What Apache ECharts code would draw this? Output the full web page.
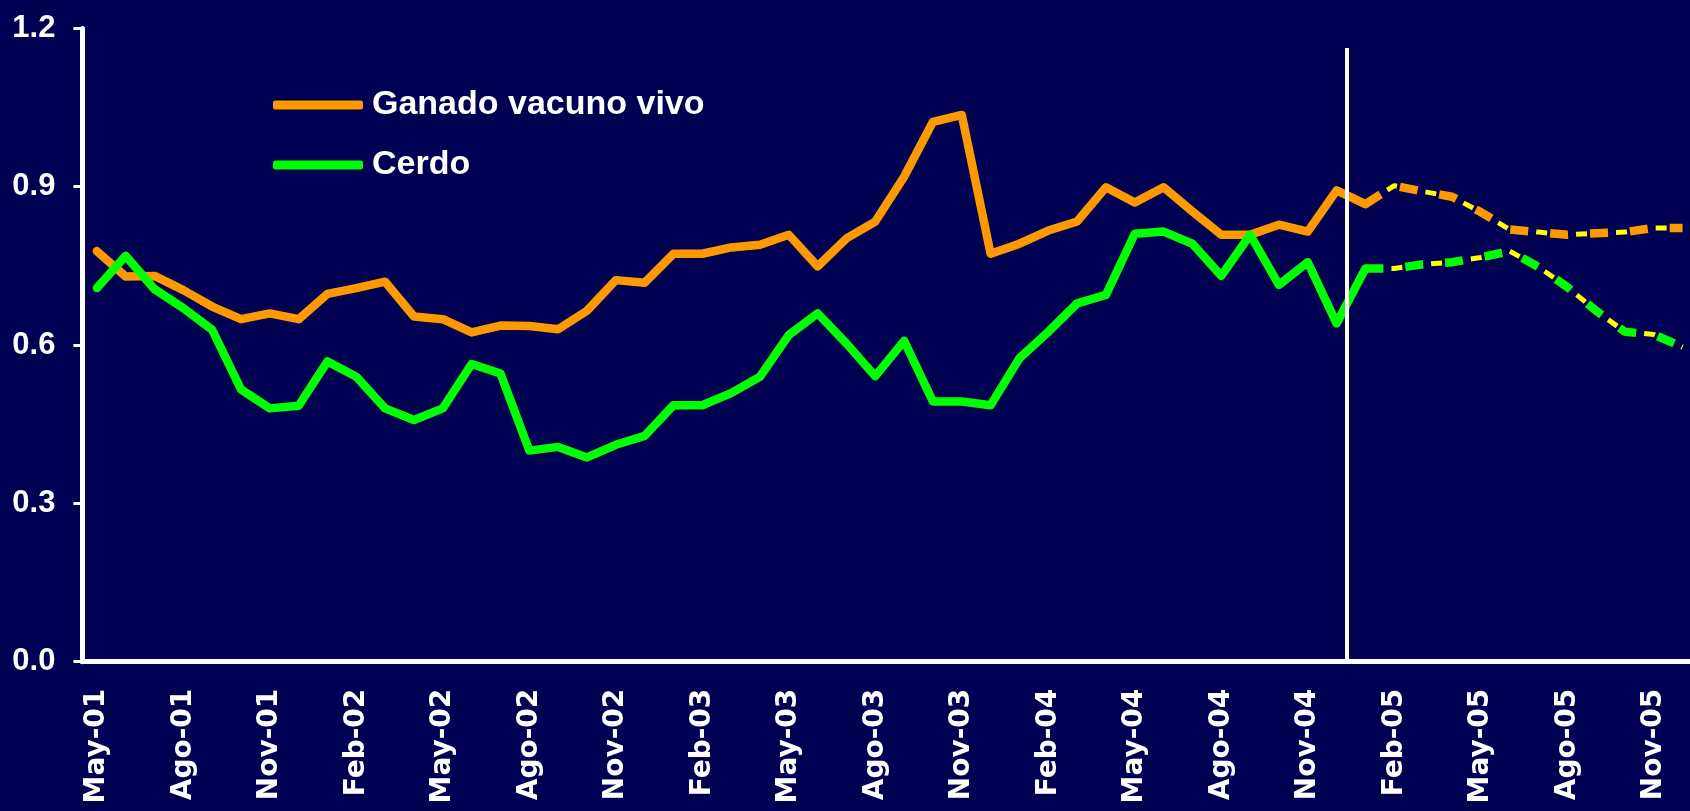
<!DOCTYPE html>
<html>
<head>
<meta charset="utf-8">
<script src="https://cdn.jsdelivr.net/npm/echarts@6/dist/echarts.min.js"></script>
<style>
html, body { margin: 0; padding: 0; background: #000052; }
#chart { width: 1690px; height: 811px; }
</style>
</head>
<body>
<div id="chart"></div>
<script>
// meses de May-01 a Dic-05
const meses = [
  'May-01','Jun-01','Jul-01','Ago-01','Sep-01','Oct-01','Nov-01','Dic-01',
  'Ene-02','Feb-02','Mar-02','Abr-02','May-02','Jun-02','Jul-02','Ago-02','Sep-02','Oct-02','Nov-02','Dic-02',
  'Ene-03','Feb-03','Mar-03','Abr-03','May-03','Jun-03','Jul-03','Ago-03','Sep-03','Oct-03','Nov-03','Dic-03',
  'Ene-04','Feb-04','Mar-04','Abr-04','May-04','Jun-04','Jul-04','Ago-04','Sep-04','Oct-04','Nov-04','Dic-04',
  'Ene-05','Feb-05','Mar-05','Abr-05','May-05','Jun-05','Jul-05','Ago-05','Sep-05','Oct-05','Nov-05','Dic-05'
];

// observado (May-01 .. Ene-05)
const ganado = [
  0.778, 0.730, 0.731, 0.704, 0.673, 0.649, 0.660, 0.649, 0.697, 0.708,
  0.720, 0.654, 0.649, 0.624, 0.637, 0.636, 0.630, 0.665, 0.723, 0.718,
  0.773, 0.773, 0.785, 0.790, 0.809, 0.749, 0.802, 0.834, 0.919, 1.023,
  1.036, 0.773, 0.792, 0.817, 0.834, 0.899, 0.870, 0.899, 0.853, 0.809,
  0.809, 0.828, 0.815, 0.893, 0.867
];
const cerdo = [
  0.708, 0.769, 0.706, 0.670, 0.629, 0.516, 0.480, 0.485, 0.569, 0.540,
  0.480, 0.458, 0.480, 0.564, 0.546, 0.400, 0.407, 0.387, 0.411, 0.428,
  0.486, 0.486, 0.509, 0.540, 0.619, 0.660, 0.603, 0.541, 0.608, 0.493,
  0.493, 0.486, 0.575, 0.625, 0.679, 0.695, 0.811, 0.815, 0.792, 0.731,
  0.809, 0.714, 0.757, 0.641, 0.745
];

// proyección (Ene-05 .. Dic-05)
const proyDesde = 44;
const ganadoProy = [0.867, 0.902, 0.891, 0.881, 0.852, 0.819, 0.814, 0.809, 0.812, 0.814, 0.822, 0.822];
const cerdoProy  = [0.745, 0.745, 0.753, 0.757, 0.766, 0.778, 0.748, 0.710, 0.665, 0.625, 0.620, 0.596];

const yMin = 0, yMax = 1.2, yPaso = 0.3;
const divisor = 43.85;     // línea blanca entre Dic-04 y Ene-05
const divisorTope = 1.163;

const naranja = '#FF9900', verde = '#00FF00', amarillo = '#FFFF00';

function proy(vals) {
  return new Array(proyDesde).fill(null).concat(vals);
}

const chart = echarts.init(document.getElementById('chart'));

const fuente = '"Liberation Sans", Arial, sans-serif';
const fuenteEje = '"DejaVu Sans", sans-serif';

chart.setOption({
  backgroundColor: '#000052',
  animation: false,
  grid: {
    left: 82.4, top: 28.4, right: -7, bottom: 149.3,
    containLabel: false, outerBoundsMode: 'none'
  },
  legend: {
    data: ['Ganado vacuno vivo', 'Cerdo'],
    orient: 'vertical',
    left: 273, top: 88,
    padding: 0,
    icon: 'roundRect',
    itemWidth: 90, itemHeight: 9,
    itemGap: 26,
    textStyle: {
      color: '#fff', fontSize: 34, fontWeight: 'bold', fontFamily: fuente,
      lineHeight: 34, padding: [0, 0, 0, 4]
    }
  },
  xAxis: [{
    type: 'category',
    data: meses,
    boundaryGap: true,
    axisLine: { lineStyle: { color: '#fff', width: 5 } },
    axisTick: { interval: 2, length: 9, lineStyle: { color: '#fff', width: 3 } },
    axisLabel: {
      interval: 2, rotate: 90, margin: 27,
      color: '#fff', fontSize: 28, fontWeight: 'bold', fontFamily: fuenteEje
    },
    splitLine: { show: false }
  }, {
    type: 'value', show: false, min: 0, max: meses.length
  }],
  yAxis: {
    type: 'value',
    min: yMin, max: yMax, interval: yPaso,
    axisLine: { show: true, lineStyle: { color: '#fff', width: 5 } },
    axisTick: { show: true, length: 9, lineStyle: { color: '#fff', width: 3 } },
    axisLabel: {
      margin: 27, color: '#fff', fontSize: 31, fontWeight: 'bold', fontFamily: fuente,
      formatter: v => v.toFixed(1)
    },
    splitLine: { show: false }
  },
  series: [
    {
      name: 'Ganado vacuno vivo', type: 'line', data: ganado,
      symbol: 'none', itemStyle: { color: naranja },
      lineStyle: { color: naranja, width: 8.5, cap: 'round', join: 'round' }
    },
    {
      name: 'Cerdo', type: 'line', data: cerdo,
      symbol: 'none', itemStyle: { color: verde },
      lineStyle: { color: verde, width: 8.5, cap: 'round', join: 'round' }
    },
    {
      name: 'Ganado proy', type: 'line', data: proy(ganadoProy),
      symbol: 'none',
      lineStyle: { color: naranja, width: 8.5, type: [18, 22], cap: 'butt' }
    },
    {
      name: 'Ganado proy 2', type: 'line', data: proy(ganadoProy),
      symbol: 'none',
      lineStyle: { color: amarillo, width: 5, type: [11, 29], dashOffset: 14, cap: 'butt' }
    },
    {
      name: 'Cerdo proy', type: 'line', data: proy(cerdoProy),
      symbol: 'none',
      lineStyle: { color: verde, width: 8.5, type: [18, 22], cap: 'butt' }
    },
    {
      name: 'Cerdo proy 2', type: 'line', data: proy(cerdoProy),
      symbol: 'none',
      lineStyle: { color: amarillo, width: 5, type: [11, 29], dashOffset: 14, cap: 'butt' }
    },
    {
      name: 'divisor', type: 'line', xAxisIndex: 1, data: [],
      markLine: {
        silent: true, symbol: ['none', 'none'], label: { show: false },
        lineStyle: { color: '#fff', width: 4, type: 'solid' },
        data: [[{ coord: [divisor, 0] }, { coord: [divisor, divisorTope] }]]
      }
    }
  ]
});
</script>
</body>
</html>
